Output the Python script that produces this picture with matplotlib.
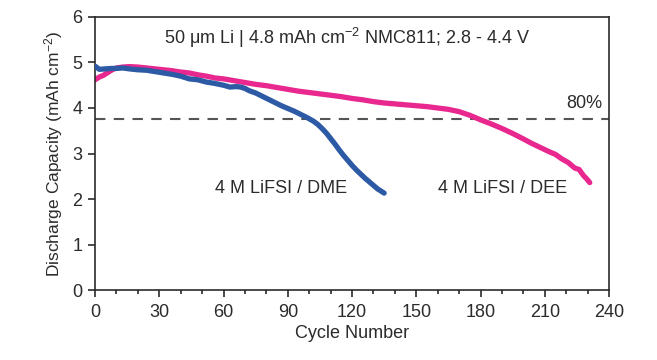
import numpy as np
import matplotlib
matplotlib.use('Agg')
import matplotlib.pyplot as plt
from matplotlib.ticker import MultipleLocator

plt.rcParams['font.family'] = ['Liberation Sans', 'DejaVu Sans']
plt.rcParams['mathtext.fontset'] = 'custom'
plt.rcParams['mathtext.rm'] = 'Liberation Sans'
plt.rcParams['mathtext.it'] = 'Liberation Sans'

# 4 M LiFSI / DME (blue)
dme_cycle = [0, 2, 5, 8, 10, 13, 16, 20, 24, 28, 32, 36, 40, 44, 48, 52, 56, 60,
             63, 66, 68, 70, 72, 75, 78, 81, 84, 87, 90, 93, 96, 99, 102, 104, 106,
             108, 110, 112, 114, 116, 118, 120, 122, 124, 126, 128, 130, 132, 134, 135]
dme_cap = [4.92, 4.85, 4.86, 4.87, 4.87, 4.88, 4.86, 4.84, 4.83, 4.80, 4.77, 4.74,
           4.70, 4.64, 4.62, 4.57, 4.54, 4.50, 4.46, 4.47, 4.46, 4.43, 4.38, 4.33,
           4.26, 4.19, 4.12, 4.05, 3.99, 3.93, 3.86, 3.79, 3.71, 3.64, 3.55, 3.45,
           3.33, 3.21, 3.08, 2.96, 2.85, 2.74, 2.64, 2.55, 2.46, 2.38, 2.30, 2.22,
           2.16, 2.13]

# 4 M LiFSI / DEE (pink)
dee_cycle = [0, 2, 4, 6, 8, 10, 13, 16, 20, 24, 28, 32, 36, 40, 44, 48, 52, 56, 60,
             65, 70, 75, 80, 85, 90, 95, 100, 105, 110, 115, 120, 125, 130, 135, 140,
             145, 150, 155, 160, 165, 170, 175, 180, 185, 190, 195, 200, 204, 208,
             212, 215, 218, 221, 224, 226, 228, 230, 231]
dee_cap = [4.62, 4.68, 4.72, 4.78, 4.84, 4.88, 4.90, 4.91, 4.90, 4.88, 4.86, 4.84,
           4.82, 4.79, 4.77, 4.73, 4.70, 4.66, 4.64, 4.60, 4.56, 4.52, 4.49, 4.45,
           4.41, 4.37, 4.34, 4.31, 4.28, 4.25, 4.21, 4.18, 4.14, 4.11, 4.09, 4.07,
           4.05, 4.03, 4.00, 3.97, 3.92, 3.84, 3.74, 3.65, 3.55, 3.44, 3.32, 3.22,
           3.13, 3.04, 2.98, 2.88, 2.80, 2.68, 2.65, 2.52, 2.42, 2.36]

cutoff = 3.75

fig = plt.figure(figsize=(6.57, 3.6), dpi=100)
ax = fig.add_axes([0.1446, 0.1944, 0.7824, 0.7584])

text_c = '#2b2b2b'
fs = 13
ax.axhline(cutoff, color='#555555', lw=1.5, ls=(0, (5, 4)), zorder=1)
ax.plot(dee_cycle, dee_cap, color='#e8288f', lw=3.8, solid_capstyle='round', zorder=2)
ax.plot(dme_cycle, dme_cap, color='#2d5aa4', lw=3.8, solid_capstyle='round', zorder=3)

ax.set_xlim(0, 240)
ax.set_ylim(0, 6)
ax.xaxis.set_major_locator(MultipleLocator(30))
ax.xaxis.set_minor_locator(MultipleLocator(10))
ax.yaxis.set_major_locator(MultipleLocator(1))
ax.tick_params(which='both', direction='out', top=False, right=False,
               labelsize=fs, colors=text_c, width=1.2)
ax.tick_params(which='major', length=5)
ax.tick_params(which='minor', length=3)
ax.tick_params(axis='x', which='major', pad=5)
ax.tick_params(axis='y', which='major', pad=4)
for s in ax.spines.values():
    s.set_linewidth(1.2)
    s.set_color(text_c)

ax.set_xlabel('Cycle Number', fontsize=fs, color=text_c, labelpad=3)
ax.set_ylabel('Discharge Capacity (mAh cm$^{-2}$)', fontsize=12.5, color=text_c, labelpad=5)

ax.text(117.5, 5.55, r'50 $\mathrm{\mu}$m Li | 4.8 mAh cm$^{-2}$ NMC811; 2.8 - 4.4 V',
        ha='center', va='center', fontsize=fs, color=text_c)
ax.text(237, 4.1, '80%', ha='right', va='center', fontsize=fs, color=text_c)
ax.text(56, 2.24, '4 M LiFSI / DME', ha='left', va='center', fontsize=fs, color=text_c)
ax.text(160, 2.24, '4 M LiFSI / DEE', ha='left', va='center', fontsize=fs, color=text_c)

fig.savefig('out.png', dpi=100)
